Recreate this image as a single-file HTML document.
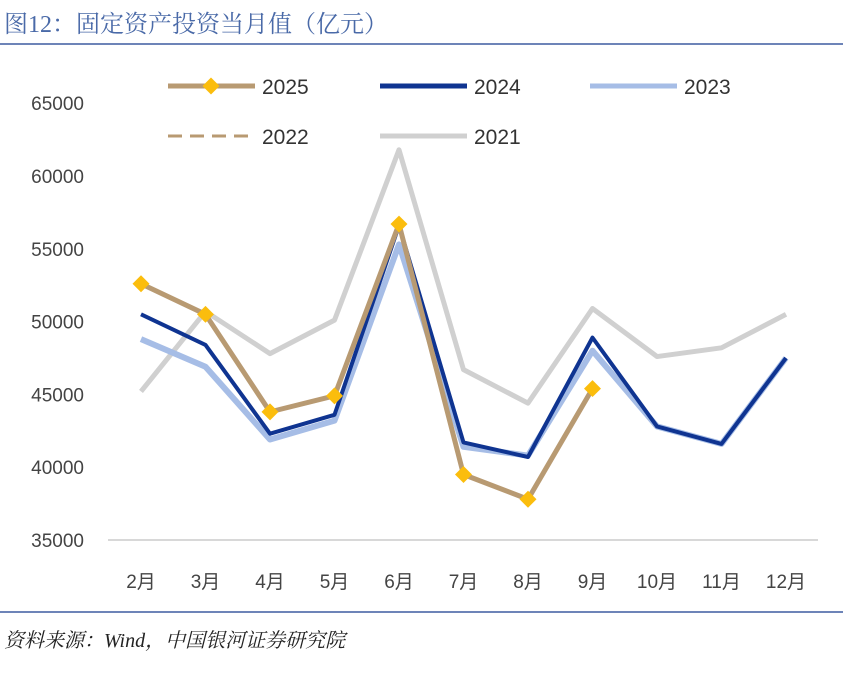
<!DOCTYPE html>
<html><head><meta charset="utf-8"><style>
body{margin:0;background:#fff;width:860px;height:679px;overflow:hidden;font-family:"Liberation Serif","Noto Serif CJK SC",serif;}
</style></head><body>
<div style="position:absolute;left:4px;top:4px;font-size:24px;color:#4a6aa8;font-family:'Liberation Serif','Noto Serif CJK SC',serif;">图12：固定资产投资当月值（亿元）</div>
<div style="position:absolute;left:0;top:43px;width:843px;height:2px;background:#6d84b8;"></div>
<div style="position:absolute;left:0;top:611px;width:843px;height:2px;background:#6d84b8;"></div>
<div style="position:absolute;left:4px;top:624px;font-size:20px;font-style:italic;color:#222;">资料来源：Wind，中国银河证券研究院</div>
<svg id="chart" width="860" height="679" style="position:absolute;left:0;top:0" font-family="'Liberation Sans','Noto Sans CJK SC',sans-serif"></svg>
<script>
const categories=["2月","3月","4月","5月","6月","7月","8月","9月","10月","11月","12月"];
const yTicks=[35000,40000,45000,50000,55000,60000,65000];
const s2025=[52600,50500,43800,44900,56700,39500,37800,45400];
const s2024=[50500,48400,42300,43600,56600,41700,40700,48900,42800,41600,47500];
const s2023=[48800,46900,41900,43200,55300,41400,40800,48000,42800,41600,47500];
const s2021=[45200,50700,47800,50100,61800,46700,44400,50900,47600,48200,50500];
const svg=document.getElementById('chart');const NS='http://www.w3.org/2000/svg';
function x(i){return 141+i*64.5;}
function y(v){return 540-(v-35000)/5000*72.8;}
function el(t,a,p){const e=document.createElementNS(NS,t);for(const k in a)e.setAttribute(k,a[k]);(p||svg).appendChild(e);return e;}
yTicks.forEach(v=>{const t=el('text',{x:84,y:y(v)+7,'text-anchor':'end','font-size':19,fill:'#444'});t.textContent=v;

});
const ax=el('line',{x1:108,x2:818,y1:540,y2:540,stroke:'#ccc','stroke-width':1.5});


categories.forEach((c,i)=>{const t=el('text',{x:x(i),y:588,'text-anchor':'middle','font-size':19,fill:'#444'});t.textContent=c;

});
function line(d,col,w,name){const p=el('polyline',{points:d.map((v,i)=>x(i)+','+y(v)).join(' '),fill:'none',stroke:col,'stroke-width':w,'stroke-linejoin':'round'});

}
line(s2021,'#d0d0d0',5,'series-2021');
line(s2023,'#a6bde6',6,'series-2023');
line(s2024,'#0f3491',4,'series-2024');
line(s2025,'#b89a72',5,'series-2025');
s2025.forEach((v,i)=>{const m=el('rect',{x:x(i)-6,y:y(v)-6,width:12,height:12,fill:'#fbbd0d',transform:`rotate(45 ${x(i)} ${y(v)})`});

});
function leg(x1,yy,col,w,label,dash,marker){const g=el('g',{});


el('line',{x1:x1,x2:x1+87,y1:yy,y2:yy,stroke:col,'stroke-width':w,'stroke-dasharray':dash||'none'},g);
if(marker)el('rect',{x:x1+37,y:yy-6,width:12,height:12,fill:'#fbbd0d',transform:`rotate(45 ${x1+43} ${yy})`},g);
const t=el('text',{x:x1+94,y:yy+8,'font-size':21,fill:'#333'},g);t.textContent=label;}
leg(168,86,'#b89a72',5,'2025',null,true);
leg(380,86,'#0f3491',5,'2024');
leg(590,86,'#a6bde6',5,'2023');
leg(168,136,'#b89a72',3,'2022','14,8');
leg(380,136,'#d0d0d0',5,'2021');
</script>
</body></html>
